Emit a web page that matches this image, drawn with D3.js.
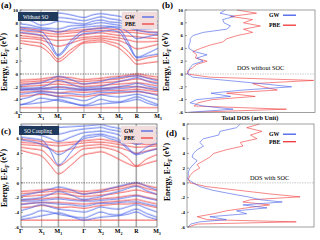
<!DOCTYPE html>
<html>
<head>
<meta charset="utf-8">
<script src="https://cdn.jsdelivr.net/npm/d3@7"></script>
<style>
  body { margin: 0; background: #fff; }
  svg { display: block; font-family: "Liberation Serif", "DejaVu Serif", serif; }
</style>
</head>
<body>
<div id="chart"></div>
<script>
// k-path: high-symmetry points and the sampled k positions
const kTicks = [0, 21, 38, 64, 81, 99, 117, 138];
const kLabels = ["Γ", "X|1", "M|1", "Γ", "X|2", "M|2", "R", "M|3"];
const kGrid = [0, 10.5, 21, 29.5, 38, 51, 64, 72.5, 81, 90, 99, 108, 117, 127.5, 138];

// (a) bands without SO — energies (eV) at kGrid
const gwNoSO = [
  [6.5, 6.3, 6.0, 4.5, 2.8, 4.8, 6.3, 6.4, 6.6, 6.8, 6.5, 4.5, 2.5, 2.8, 3.1],
  [7.0, 6.8, 6.6, 5.2, 3.0, 5.2, 6.8, 7.0, 7.1, 7.3, 7.0, 5.0, 2.6, 3.2, 4.0],
  [7.3, 7.2, 7.0, 6.8, 6.5, 7.0, 7.3, 7.4, 7.5, 7.4, 7.3, 6.5, 5.5, 5.8, 6.2],
  [7.8, 7.6, 7.2, 7.1, 7.0, 7.5, 7.6, 7.8, 8.0, 7.8, 7.6, 7.2, 6.8, 6.5, 6.4],
  [8.5, 8.3, 7.6, 7.8, 8.2, 8.0, 7.8, 8.2, 8.4, 8.1, 8.0, 7.6, 7.0, 7.0, 7.2],
  [9.2, 9.0, 8.3, 8.4, 8.8, 8.6, 8.3, 8.6, 8.9, 8.6, 8.4, 8.0, 7.6, 7.5, 7.6],
  [9.6, 9.5, 9.2, 9.0, 9.5, 9.2, 8.8, 9.2, 9.4, 9.2, 9.0, 8.6, 8.2, 8.0, 8.2],
  [-1.8, -1.6, -1.4, -0.9, -0.4, -0.9, -1.6, -1.4, -1.2, -0.8, -0.6, -0.4, -0.3, -0.7, -1.1],
  [-2.2, -2.2, -2.1, -1.6, -1.0, -1.6, -2.2, -2.1, -2.0, -1.6, -1.2, -0.9, -0.6, -1.2, -1.6],
  [-2.4, -2.4, -2.3, -2.2, -2.0, -2.2, -2.4, -2.4, -2.3, -2.2, -2.0, -1.8, -1.5, -1.9, -2.2],
  [-2.6, -2.5, -2.5, -2.4, -2.4, -2.5, -2.6, -2.5, -2.5, -2.4, -2.3, -2.2, -2.0, -2.3, -2.6],
  [-3.2, -3.0, -2.8, -2.9, -3.0, -3.1, -3.3, -3.1, -2.9, -2.9, -2.8, -2.8, -2.7, -3.0, -3.4],
  [-4.0, -3.6, -3.0, -3.3, -3.6, -3.8, -4.2, -3.8, -3.3, -3.5, -3.6, -3.4, -3.2, -3.6, -4.0],
  [-4.9, -4.4, -3.8, -4.0, -4.2, -4.6, -4.9, -4.5, -4.0, -4.3, -4.4, -4.0, -3.6, -4.2, -4.8],
  [-4.8, -4.7, -4.5, -4.3, -4.0, -4.5, -5.0, -4.9, -4.7, -4.6, -4.5, -4.3, -4.0, -4.6, -5.0]
];
const pbeNoSO = [
  [4.8, 4.5, 4.2, 3.2, 1.9, 3.3, 4.8, 4.9, 5.0, 4.6, 4.0, 2.8, 1.5, 1.7, 1.9],
  [5.2, 5.0, 4.8, 3.8, 2.3, 3.8, 5.0, 5.2, 5.3, 5.0, 4.6, 3.5, 2.1, 2.5, 2.8],
  [5.6, 5.5, 5.3, 4.8, 4.3, 4.8, 5.4, 5.5, 5.6, 5.4, 5.2, 4.6, 3.9, 4.2, 4.6],
  [6.0, 5.8, 5.6, 5.4, 5.2, 5.4, 5.7, 5.8, 5.9, 5.8, 5.6, 5.3, 5.0, 5.0, 5.1],
  [6.4, 6.2, 6.0, 5.9, 5.8, 5.9, 6.1, 6.3, 6.4, 6.2, 6.0, 5.9, 5.8, 5.6, 5.5],
  [6.8, 6.6, 6.5, 6.3, 6.2, 6.4, 6.6, 6.7, 6.8, 6.6, 6.5, 6.5, 6.4, 6.2, 6.0],
  [7.2, 7.0, 6.8, 6.7, 6.6, 6.7, 6.9, 7.0, 7.2, 7.0, 6.9, 6.8, 6.8, 6.6, 6.5],
  [-1.0, -0.9, -0.8, -0.6, -0.5, -0.6, -0.9, -0.8, -0.7, -0.5, -0.4, -0.2, 0.0, -0.3, -0.5],
  [-1.3, -1.2, -1.1, -0.9, -0.8, -1.0, -1.2, -1.1, -1.0, -0.9, -0.8, -0.5, -0.3, -0.6, -0.9],
  [-1.6, -1.5, -1.4, -1.3, -1.2, -1.4, -1.6, -1.5, -1.4, -1.3, -1.2, -1.0, -0.8, -1.1, -1.4],
  [-2.0, -1.9, -1.8, -1.7, -1.6, -1.8, -2.0, -1.9, -1.8, -1.7, -1.6, -1.5, -1.4, -1.6, -1.9],
  [-2.5, -2.4, -2.3, -2.2, -2.1, -2.3, -2.5, -2.4, -2.3, -2.2, -2.1, -2.0, -2.0, -2.2, -2.4],
  [-2.9, -2.8, -2.7, -2.8, -3.0, -2.8, -2.9, -2.8, -2.7, -2.6, -2.6, -2.5, -2.4, -2.6, -2.8],
  [-3.5, -3.4, -3.2, -3.3, -3.5, -3.4, -3.6, -3.4, -3.2, -3.1, -3.0, -2.9, -2.8, -3.0, -3.2],
  [-5.3, -5.3, -5.3, -5.3, -5.3, -5.3, -5.3, -5.3, -5.3, -5.3, -5.3, -5.3, -5.3, -5.3, -5.3]
];

// (c) bands with SO coupling
const gwSO = [
  [5.8, 5.6, 5.2, 4.6, 3.8, 4.8, 6.0, 6.2, 6.4, 6.0, 5.6, 4.6, 3.8, 4.2, 4.6],
  [6.2, 6.0, 5.8, 4.4, 2.4, 4.2, 6.3, 6.5, 6.6, 6.3, 5.9, 4.8, 3.9, 4.8, 5.4],
  [6.8, 6.6, 6.4, 6.0, 5.6, 6.2, 6.8, 6.9, 7.0, 6.8, 6.5, 5.8, 5.2, 5.6, 6.0],
  [7.2, 7.1, 7.0, 6.8, 6.6, 7.0, 7.3, 7.4, 7.5, 7.2, 7.0, 6.6, 6.2, 6.4, 6.8],
  [7.7, 7.6, 7.4, 7.4, 7.5, 7.6, 7.7, 7.8, 7.9, 7.6, 7.4, 7.0, 6.8, 7.0, 7.4],
  [-1.8, -1.5, -1.2, -0.9, -0.6, -1.0, -1.6, -1.4, -1.2, -0.8, -0.5, -0.2, 0.0, -0.5, -1.0],
  [-2.3, -2.2, -2.0, -1.6, -1.2, -1.7, -2.3, -2.1, -1.9, -1.5, -1.2, -0.8, -0.5, -1.1, -1.6],
  [-2.5, -2.5, -2.4, -2.3, -2.2, -2.4, -2.5, -2.5, -2.4, -2.3, -2.2, -2.0, -1.8, -2.1, -2.4],
  [-3.0, -2.8, -2.7, -2.8, -2.9, -3.0, -3.2, -3.0, -2.8, -2.8, -2.7, -2.6, -2.6, -2.9, -3.2],
  [-3.8, -3.4, -3.0, -3.3, -3.6, -3.8, -4.0, -3.7, -3.3, -3.5, -3.6, -3.3, -3.0, -3.5, -4.0],
  [-4.7, -4.3, -3.8, -4.0, -4.3, -4.6, -4.8, -4.4, -4.0, -4.3, -4.4, -4.0, -3.6, -4.2, -4.7],
  [-5.0, -4.8, -4.5, -4.3, -4.1, -4.6, -5.1, -4.9, -4.7, -4.6, -4.5, -4.3, -4.0, -4.6, -5.0]
];
const pbeSO = [
  [4.4, 4.0, 3.6, 2.4, 1.2, 2.4, 3.8, 4.0, 4.2, 3.8, 3.2, 2.6, 2.2, 2.6, 3.0],
  [4.8, 4.6, 4.4, 3.4, 2.3, 3.4, 4.6, 4.7, 4.8, 4.6, 4.2, 3.4, 2.3, 3.2, 3.8],
  [5.2, 5.1, 5.0, 4.6, 4.2, 4.6, 5.0, 5.1, 5.2, 5.0, 4.8, 4.4, 4.0, 4.3, 4.6],
  [5.5, 5.4, 5.3, 5.1, 5.0, 5.2, 5.4, 5.5, 5.5, 5.4, 5.2, 5.0, 4.8, 4.9, 5.0],
  [5.9, 5.8, 5.6, 5.5, 5.4, 5.5, 5.7, 5.8, 5.9, 5.7, 5.5, 5.4, 5.3, 5.2, 5.2],
  [-1.2, -1.1, -1.0, -0.9, -0.9, -1.0, -1.2, -1.1, -1.0, -0.8, -0.6, -0.3, -0.1, -0.4, -0.7],
  [-1.5, -1.4, -1.3, -1.2, -1.1, -1.3, -1.5, -1.4, -1.3, -1.1, -0.9, -0.6, -0.4, -0.8, -1.1],
  [-1.9, -1.8, -1.7, -1.6, -1.5, -1.7, -1.9, -1.8, -1.7, -1.6, -1.4, -1.2, -1.0, -1.3, -1.6],
  [-2.4, -2.3, -2.2, -2.1, -2.0, -2.2, -2.4, -2.3, -2.2, -2.1, -2.0, -1.8, -1.7, -2.0, -2.3],
  [-2.9, -2.8, -2.7, -2.7, -2.7, -2.8, -2.9, -2.8, -2.7, -2.6, -2.5, -2.4, -2.3, -2.6, -2.9],
  [-3.4, -3.3, -3.1, -3.2, -3.4, -3.3, -3.5, -3.3, -3.1, -3.0, -2.9, -2.9, -2.8, -3.1, -3.4],
  [-5.1, -5.1, -5.1, -5.1, -5.1, -5.1, -5.1, -5.1, -5.1, -5.1, -5.1, -5.1, -5.1, -5.1, -5.1]
];

// (b) total DOS without SOC
const dosEnergyB = [10, 9.5, 9, 8.5, 8, 7.5, 7, 6.5, 6, 5.5, 5, 4.5, 4, 3.5, 3, 2.5, 2, 1.5, 1, 0.5, 0,
  -0.5, -1, -1.5, -2, -2.5, -3, -3.5, -4, -4.5, -5, -5.5, -6];
const dosGwB = [3.1, 2.7, 3.8, 2.9, 3.0, 3.5, 3.2, 1.4, 0.6, 0.4, 0.4, 0.3, 0.3, 0.7, 1.7, 0.9, 1.4, 0.6, 0.4, 0.3, 0.2,
  0.6, 3.2, 5.8, 8.2, 4.5, 2.0, 3.5, 0.9, 0.4, 1.4, 3.7, 0.2];
const dosPbeB = [4.0, 5.5, 3.5, 5.2, 4.5, 5.8, 4.5, 5.2, 4.0, 3.2, 2.9, 1.9, 1.2, 0.6, 0.9, 0.8, 1.7, 0.9, 0.6, 0.2, 0.2,
  1.9, 9.9, 5.2, 6.0, 7.1, 3.2, 5.4, 2.1, 1.0, 0.7, 7.8, 0.4];

// (d) total DOS with SOC
const dosEnergyD = [8, 7.5, 7, 6.5, 6, 5.5, 5, 4.5, 4, 3.5, 3, 2.5, 2, 1.5, 1, 0.5, 0,
  -0.5, -1, -1.5, -1.9, -2.3, -2.6, -3.0, -3.4, -3.8, -4.2, -4.6, -5.0, -5.3, -5.6, -6];
const dosGwD = [4.2, 3.9, 2.6, 2.5, 1.3, 1.0, 1.3, 0.8, 0.5, 0.4, 0.8, 0.5, 0.24, 0.1, 0.1, 0.05, 0.5,
  1.0, 2.0, 3.5, 4.8, 5.8, 7.5, 4.4, 6.3, 3.9, 4.7, 1.8, 3.1, 1.0, 0.3, 0.1];
const dosPbeD = [5.7, 4.7, 5.9, 5.0, 5.5, 4.2, 4.4, 3.1, 2.1, 1.8, 1.3, 0.8, 1.0, 0.5, 0.24, 0.1, 0.24,
  1.5, 4.0, 6.5, 8.9, 5.0, 4.4, 6.5, 4.7, 3.1, 2.1, 0.8, 1.6, 8.6, 0.8, 0.1];

const blue = "#3f5ae8";
const red = "#f03535";

const svg = d3.select("#chart").append("svg")
  .attr("width", 320).attr("height", 240);

function energyLabel(x, y, size) {
  const t = svg.append("text")
    .attr("transform", `translate(${x},${y}) rotate(-90)`)
    .attr("text-anchor", "middle")
    .attr("font-size", size).attr("font-weight", "bold");
  t.append("tspan").text("Energy, E-E");
  t.append("tspan").attr("font-size", "70%").attr("dy", "0.3em").text("F");
  t.append("tspan").attr("dy", "-0.3em").text(" (eV)");
}

function yAxis(y, x0, ticks) {
  const g = svg.append("g");
  ticks.forEach(v => {
    g.append("text").attr("x", x0 - 2).attr("y", y(v)).attr("dy", "0.35em")
      .attr("text-anchor", "end").attr("font-size", 5).attr("font-weight", "bold").text(v);
    g.append("line").attr("x1", x0).attr("x2", x0 + 2).attr("y1", y(v)).attr("y2", y(v))
      .attr("stroke", "#444").attr("stroke-width", 0.5);
  });
}

function bandPanel(opt) {
  const x = d3.scaleLinear().domain([0, 138]).range(opt.xr);
  const y = d3.scaleLinear().domain(opt.yd).range(opt.yr);
  const id = "clip" + opt.tag;
  svg.append("clipPath").attr("id", id).append("rect")
    .attr("x", opt.xr[0]).attr("y", opt.yr[1])
    .attr("width", opt.xr[1] - opt.xr[0]).attr("height", opt.yr[0] - opt.yr[1]);

  // vertical lines at high-symmetry points
  kTicks.slice(1, -1).forEach((k, i) => {
    svg.append("line").attr("x1", x(k)).attr("x2", x(k))
      .attr("y1", opt.yr[1]).attr("y2", opt.yr[0])
      .attr("stroke", opt.thick.includes(i + 1) ? "#aaa" : "#777")
      .attr("stroke-width", opt.thick.includes(i + 1) ? 1.6 : 0.6);
  });

  const line = d3.line().x((d, i) => x(kGrid[i])).y(d => y(d)).curve(d3.curveMonotoneX);
  const g = svg.append("g").attr("clip-path", `url(#${id})`);
  [[opt.pbe, red], [opt.gw, blue]].forEach(([bands, c]) => {
    bands.forEach(b => {
      g.append("path").attr("d", line(b)).attr("fill", "none")
        .attr("stroke", c).attr("stroke-width", 0.7).attr("opacity", 0.85);
      g.append("path").attr("d", line(b.map(v => v + 0.12))).attr("fill", "none")
        .attr("stroke", c).attr("stroke-width", 0.5).attr("opacity", 0.55);
    });
  });

  // Fermi level
  svg.append("line").attr("x1", opt.xr[0]).attr("x2", opt.xr[1])
    .attr("y1", y(0)).attr("y2", y(0))
    .attr("stroke", "#333").attr("stroke-width", 0.6).attr("stroke-dasharray", "1.5,1");

  svg.append("rect").attr("x", opt.xr[0]).attr("y", opt.yr[1])
    .attr("width", opt.xr[1] - opt.xr[0]).attr("height", opt.yr[0] - opt.yr[1])
    .attr("fill", "none").attr("stroke", "#555").attr("stroke-width", 0.7);

  yAxis(y, opt.xr[0], opt.ticks);

  kTicks.forEach((k, i) => {
    const [b, s] = kLabels[i].split("|");
    const t = svg.append("text").attr("x", x(k)).attr("y", opt.yr[0] + 6)
      .attr("text-anchor", "middle").attr("font-size", 6).attr("font-weight", "bold");
    t.append("tspan").text(b);
    if (s) t.append("tspan").attr("font-size", 4).attr("dy", 1.5).text(s);
  });

  // title box
  svg.append("rect").attr("x", opt.xr[0] - 2).attr("y", opt.yr[1] + 2)
    .attr("width", 40).attr("height", 9).attr("fill", "#1f3a5c");
  svg.append("text").attr("x", opt.xr[0] + 3).attr("y", opt.yr[1] + 8.5)
    .attr("font-size", 5.3).attr("fill", "#fff").text(opt.title);

  // legend
  const lx = opt.xr[1] - 36, ly = opt.yr[1] + 2;
  svg.append("rect").attr("x", lx).attr("y", ly).attr("width", 35).attr("height", 17)
    .attr("fill", "#f3dcdc").attr("stroke", "#ddd").attr("stroke-width", 0.4);
  [["GW", blue], ["PBE", red]].forEach(([n, c], i) => {
    svg.append("text").attr("x", lx + 3).attr("y", ly + 7 + i * 7)
      .attr("font-size", 5.5).attr("font-weight", "bold").text(n);
    svg.append("line").attr("x1", lx + 20).attr("x2", lx + 32)
      .attr("y1", ly + 5 + i * 7).attr("y2", ly + 5 + i * 7)
      .attr("stroke", c).attr("stroke-width", 1.2);
  });
  return y;
}

function dosPanel(opt) {
  const x = d3.scaleLinear().domain([0, 10]).range(opt.xr);
  const y = d3.scaleLinear().domain(opt.yd).range(opt.yr);
  svg.append("line").attr("x1", opt.xr[0]).attr("x2", opt.xr[1])
    .attr("y1", y(0)).attr("y2", y(0))
    .attr("stroke", "#999").attr("stroke-width", 0.5).attr("stroke-dasharray", "1.5,1");
  [[opt.pbe, red], [opt.gw, blue]].forEach(([vals, c]) => {
    const line = d3.line().x(d => x(d)).y((d, i) => y(opt.energy[i]));
    svg.append("path").attr("d", line(vals)).attr("fill", "none")
      .attr("stroke", c).attr("stroke-width", 0.7).attr("opacity", 0.85);
  });
  svg.append("rect").attr("x", opt.xr[0]).attr("y", opt.yr[1])
    .attr("width", opt.xr[1] - opt.xr[0]).attr("height", opt.yr[0] - opt.yr[1])
    .attr("fill", "none").attr("stroke", "#777").attr("stroke-width", 0.7);
  yAxis(y, opt.xr[0], opt.ticks);
  [["GW", blue], ["PBE", red]].forEach(([n, c], i) => {
    svg.append("text").attr("x", opt.legend[0]).attr("y", opt.legend[1] + i * opt.legend[2])
      .attr("font-size", 5.8).attr("font-weight", "bold").text(n);
    svg.append("line").attr("x1", opt.legend[0] + 14).attr("x2", opt.legend[0] + 27)
      .attr("y1", opt.legend[1] - 1.8 + i * opt.legend[2])
      .attr("y2", opt.legend[1] - 1.8 + i * opt.legend[2])
      .attr("stroke", c).attr("stroke-width", 1.3);
  });
  svg.append("text").attr("x", opt.note[0]).attr("y", opt.note[1])
    .attr("font-size", 6.3).text(opt.noteText);
}

bandPanel({ tag: "a", xr: [20, 158], yr: [112.4, 10], yd: [-6, 10],
  ticks: [10, 8, 6, 4, 2, 0, -2, -4, -6], thick: [2, 6],
  gw: gwNoSO, pbe: pbeNoSO, title: "Without SO" });
bandPanel({ tag: "c", xr: [21, 157], yr: [227, 124], yd: [-6, 8],
  ticks: [6, 4, 2, 0, -2, -4, -6], thick: [2, 5, 6],
  gw: gwSO, pbe: pbeSO, title: "SO Coupling" });

dosPanel({ xr: [185, 315], yr: [112.4, 10], yd: [-6, 10],
  ticks: [10, 8, 6, 4, 2, 0, -2, -4, -6],
  energy: dosEnergyB, gw: dosGwB, pbe: dosPbeB,
  legend: [269, 17, 10], note: [237, 70], noteText: "DOS without  SOC" });
dosPanel({ xr: [187, 314], yr: [227, 124], yd: [-6, 8],
  ticks: [8, 6, 4, 2, 0, -2, -4, -6],
  energy: dosEnergyD, gw: dosGwD, pbe: dosPbeD,
  legend: [269, 136, 7.5], note: [250, 180], noteText: "DOS with  SOC" });

energyLabel(7, 62, 7.5);
energyLabel(169, 62, 7.5);
energyLabel(7, 178, 7.5);
energyLabel(170, 172, 7.5);

svg.append("text").attr("x", 250).attr("y", 120).attr("text-anchor", "middle")
  .attr("font-size", 6.3).attr("font-weight", "bold").text("Total DOS (arb Unit)");

[["(a)", 1, 8], ["(b)", 162, 8], ["(c)", 1, 134], ["(d)", 166, 136]].forEach(([t, x, y]) => {
  svg.append("text").attr("x", x).attr("y", y).attr("font-size", 9)
    .attr("font-weight", "bold").text(t);
});
</script>
</body>
</html>
